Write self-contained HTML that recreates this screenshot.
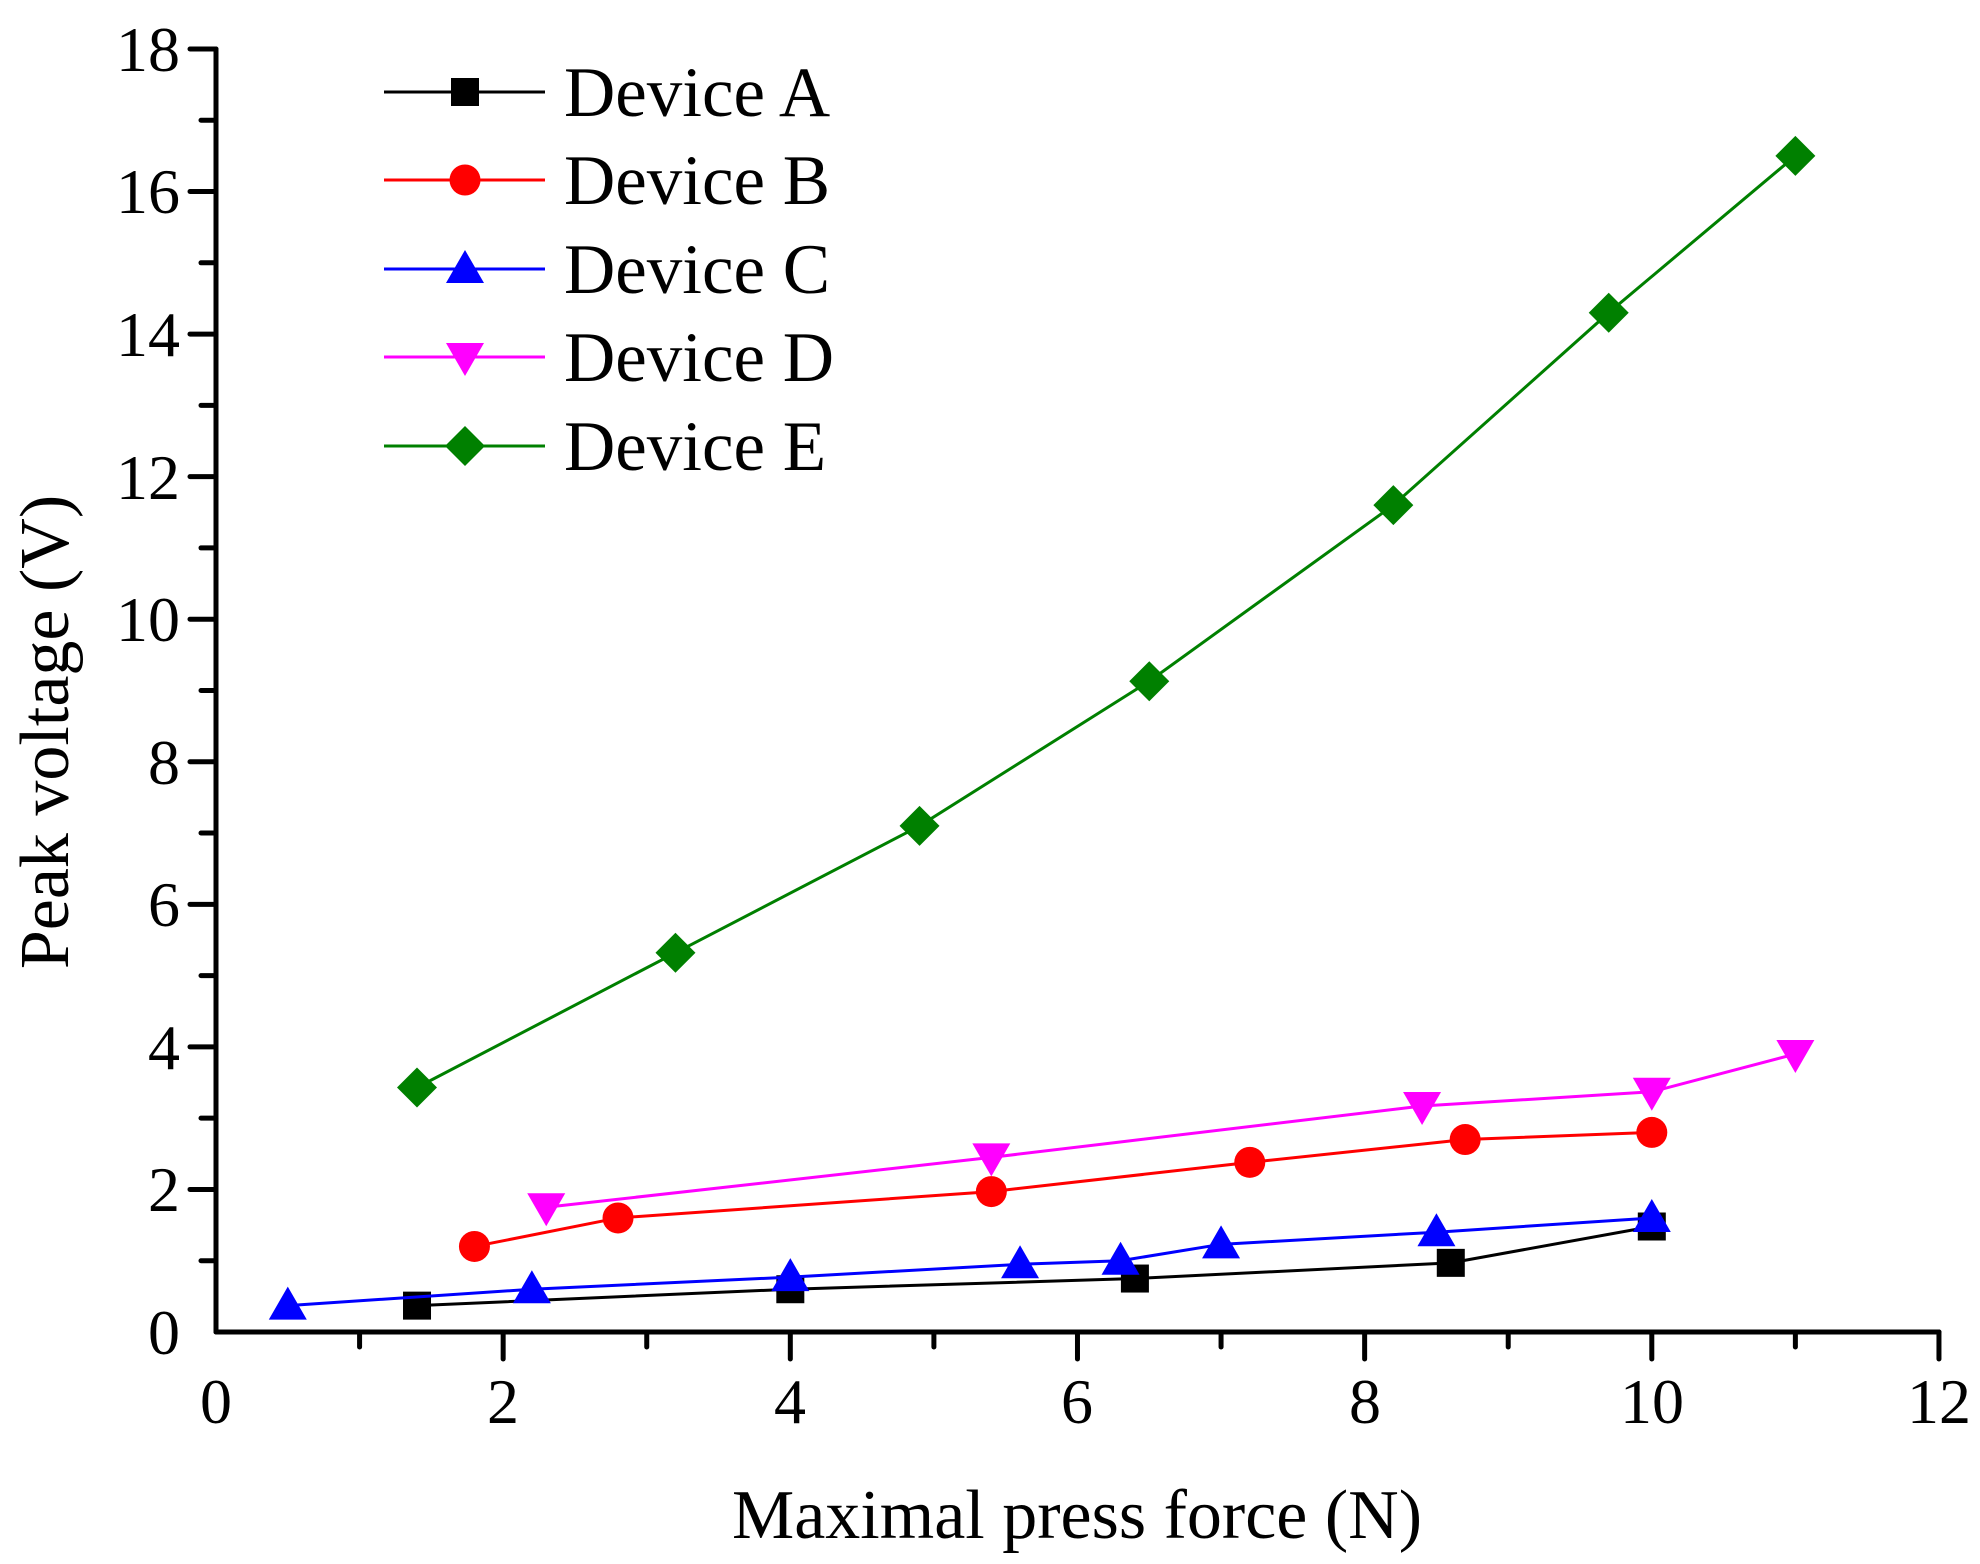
<!DOCTYPE html>
<html><head><meta charset="utf-8"><style>
html,body{margin:0;padding:0;background:#fff;}
svg{display:block;}
text{font-family:"Liberation Serif",serif;fill:#000;}
</style></head><body>
<svg id="s" width="1980" height="1564" viewBox="0 0 1980 1564" xmlns="http://www.w3.org/2000/svg">
<g id="series"></g>
<g stroke="#000" stroke-width="5" stroke-linecap="round" fill="none">
<line x1="216" y1="49" x2="216" y2="1332"/>
<line x1="216" y1="1332" x2="1939" y2="1332"/>
</g>
<g id="ticks" stroke="#000" stroke-width="5" stroke-linecap="round"></g>
<g font-size="64" text-anchor="middle">
<text x="216" y="1423">0</text><text x="503" y="1423">2</text><text x="790" y="1423">4</text>
<text x="1077" y="1423">6</text><text x="1365" y="1423">8</text><text x="1652" y="1423">10</text>
<text x="1939" y="1423">12</text>
</g>
<g font-size="64" text-anchor="end">
<text x="180" y="1354">0</text><text x="180" y="1211">2</text><text x="180" y="1069">4</text>
<text x="180" y="926">6</text><text x="180" y="784">8</text><text x="180" y="641">10</text>
<text x="180" y="499">12</text><text x="180" y="356">14</text><text x="180" y="213">16</text>
<text x="180" y="71">18</text>
</g>
<text x="1077" y="1538" font-size="70" text-anchor="middle">Maximal press force (N)</text>
<text transform="translate(68,732) rotate(-90)" font-size="70" text-anchor="middle">Peak voltage (V)</text>
<g id="legend"></g>
<g font-size="71">
<text x="564" y="116">Device A</text>
<text x="564" y="204">Device B</text>
<text x="564" y="293">Device C</text>
<text x="564" y="381">Device D</text>
<text x="564" y="470">Device E</text>
</g>
</svg>
<script>
var NS="http://www.w3.org/2000/svg";
function el(p,t,a){var e=document.createElementNS(NS,t);for(var k in a)e.setAttribute(k,a[k]);p.appendChild(e);return e;}
var X=function(x){return 216+x*143.58;},Y=function(y){return 1332-y*71.28;};
var tk=document.getElementById('ticks');
for(var i=1;i<=12;i++){var x=216+i*143.58;el(tk,'line',{x1:x,y1:1332,x2:x,y2:(i%2?1347:1359)});}
for(var j=1;j<=18;j++){var y=1332-j*71.28;el(tk,'line',{x1:216,y1:y,x2:(j%2?201:190),y2:y});}
function marker(g,type,c,x,y){
 if(type=='s')el(g,'rect',{x:x-14,y:y-14,width:28,height:28,fill:c});
 else if(type=='c')el(g,'circle',{cx:x,cy:y,r:15.5,fill:c});
 else if(type=='u')el(g,'polygon',{points:(x-19)+','+(y+14)+' '+(x+19)+','+(y+14)+' '+x+','+(y-19),fill:c});
 else if(type=='d')el(g,'polygon',{points:(x-19)+','+(y-14)+' '+(x+19)+','+(y-14)+' '+x+','+(y+19),fill:c});
 else el(g,'polygon',{points:x+','+(y-20)+' '+(x+20)+','+y+' '+x+','+(y+20)+' '+(x-20)+','+y,fill:c});
}
var S=[
['#000','s',[[1.4,0.37],[4,0.6],[6.4,0.75],[8.6,0.97],[10,1.48]]],
['#f00','c',[[1.8,1.2],[2.8,1.6],[5.4,1.97],[7.2,2.38],[8.7,2.7],[10,2.8]]],
['#00f','u',[[0.5,0.37],[2.2,0.6],[4,0.77],[5.6,0.95],[6.3,1.0],[7,1.23],[8.5,1.4],[10,1.6]]],
['#f0f','d',[[2.3,1.75],[5.4,2.45],[8.4,3.17],[10,3.37],[11,3.9]]],
['#008000','D',[[1.4,3.43],[3.2,5.32],[4.9,7.1],[6.5,9.13],[8.2,11.6],[9.7,14.3],[11,16.5]]]
];
var g=document.getElementById('series'),lg=document.getElementById('legend');
var ly=[92,180,269,357,446];
S.forEach(function(s,k){
 el(g,'polyline',{points:s[2].map(function(p){return X(p[0])+','+Y(p[1]);}).join(' '),fill:'none',stroke:s[0],'stroke-width':3});
 s[2].forEach(function(p){marker(g,s[1],s[0],X(p[0]),Y(p[1]));});
 el(lg,'line',{x1:384,y1:ly[k],x2:545,y2:ly[k],stroke:s[0],'stroke-width':3});
 marker(lg,s[1],s[0],465,ly[k]);
});
</script>
</body></html>
